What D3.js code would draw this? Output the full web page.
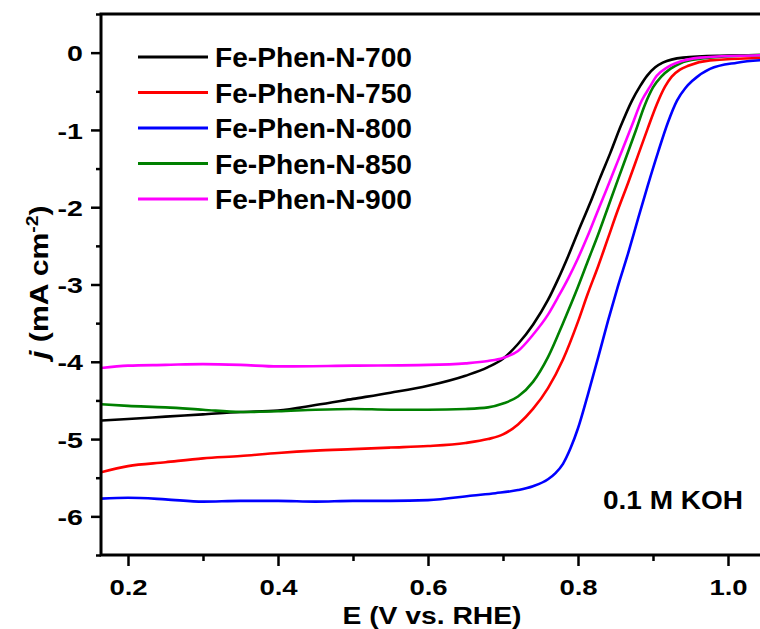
<!DOCTYPE html>
<html>
<head>
<meta charset="utf-8">
<script src="https://cdn.jsdelivr.net/npm/d3@7"></script>
<style>
  body { margin: 0; background: #fff; }
  text { font-family: "Liberation Sans", Arial, sans-serif; font-weight: bold; fill: #000; }
</style>
</head>
<body>
<div id="wrapper"></div>
<script>
// data (E in V vs RHE, j in mA cm-2)
const seriesNames = ["Fe-Phen-N-700", "Fe-Phen-N-750", "Fe-Phen-N-800", "Fe-Phen-N-850", "Fe-Phen-N-900"]
const seriesColors = ["#000000", "#ff0000", "#0000ff", "#008000", "#ff00ff"]

const potential700 = [0.164, 0.2, 0.25, 0.3, 0.35, 0.4, 0.45, 0.5, 0.55, 0.6, 0.65, 0.68, 0.7, 0.72, 0.74, 0.76, 0.773, 0.787, 0.80, 0.816, 0.829, 0.843, 0.857, 0.872, 0.883, 0.892, 0.903, 0.913, 0.94, 0.989, 1.06]
const current700 = [-4.76, -4.74, -4.71, -4.68, -4.65, -4.63, -4.56, -4.48, -4.4, -4.31, -4.18, -4.07, -3.96, -3.77, -3.52, -3.2, -2.94, -2.63, -2.32, -1.95, -1.63, -1.30, -0.95, -0.62, -0.43, -0.30, -0.19, -0.13, -0.065, -0.04, -0.03]

const potential750 = [0.164, 0.2, 0.25, 0.3, 0.35, 0.4, 0.45, 0.5, 0.55, 0.6, 0.65, 0.68, 0.7, 0.72, 0.74, 0.76, 0.78, 0.80, 0.813, 0.827, 0.84, 0.853, 0.867, 0.88, 0.893, 0.905, 0.916, 0.925, 0.936, 0.947, 0.976, 1.06]
const current750 = [-5.43, -5.35, -5.3, -5.25, -5.22, -5.18, -5.15, -5.13, -5.11, -5.09, -5.05, -5.0, -4.94, -4.81, -4.61, -4.34, -3.97, -3.48, -3.12, -2.76, -2.40, -2.04, -1.68, -1.33, -0.98, -0.67, -0.44, -0.31, -0.22, -0.17, -0.10, -0.065]

const potential800 = [0.164, 0.2, 0.25, 0.3, 0.35, 0.4, 0.45, 0.5, 0.55, 0.6, 0.66, 0.69, 0.72, 0.74, 0.76, 0.77, 0.78, 0.79, 0.80, 0.813, 0.827, 0.84, 0.853, 0.867, 0.88, 0.893, 0.907, 0.92, 0.932, 0.943, 0.953, 0.976, 1.012, 1.06]
const current800 = [-5.77, -5.76, -5.78, -5.81, -5.8, -5.8, -5.81, -5.8, -5.8, -5.79, -5.73, -5.70, -5.66, -5.61, -5.52, -5.44, -5.32, -5.12, -4.86, -4.43, -3.94, -3.47, -3.03, -2.59, -2.15, -1.72, -1.28, -0.90, -0.62, -0.46, -0.36, -0.21, -0.13, -0.09]

const potential850 = [0.164, 0.2, 0.25, 0.3, 0.35, 0.4, 0.45, 0.5, 0.55, 0.6, 0.65, 0.68, 0.7, 0.72, 0.74, 0.76, 0.78, 0.80, 0.813, 0.827, 0.84, 0.853, 0.865, 0.877, 0.889, 0.90, 0.911, 0.923, 0.936, 0.963, 1.016, 1.06]
const current850 = [-4.55, -4.57, -4.59, -4.62, -4.65, -4.64, -4.62, -4.61, -4.62, -4.62, -4.61, -4.59, -4.54, -4.45, -4.26, -3.94, -3.50, -3.03, -2.70, -2.35, -2.0, -1.65, -1.33, -1.01, -0.68, -0.45, -0.31, -0.21, -0.14, -0.08, -0.04, -0.03]

const potential900 = [0.164, 0.2, 0.25, 0.3, 0.35, 0.4, 0.5, 0.6, 0.65, 0.68, 0.7, 0.72, 0.74, 0.76, 0.773, 0.787, 0.80, 0.813, 0.825, 0.836, 0.847, 0.859, 0.872, 0.885, 0.896, 0.905, 0.919, 0.932, 0.963, 1.016, 1.06]
const current900 = [-4.08, -4.05, -4.04, -4.03, -4.04, -4.06, -4.05, -4.04, -4.02, -3.99, -3.95, -3.86, -3.65, -3.39, -3.17, -2.92, -2.66, -2.37, -2.08, -1.82, -1.55, -1.26, -0.94, -0.62, -0.44, -0.30, -0.19, -0.13, -0.065, -0.04, -0.03]

const xMajorTicks = [0.2, 0.4, 0.6, 0.8, 1.0]
const xMinorTicks = [0.3, 0.5, 0.7, 0.9]
const yMajorTicks = [0, -1, -2, -3, -4, -5, -6]
const yMinorTicks = [0.5, -0.5, -1.5, -2.5, -3.5, -4.5, -5.5, -6.5]

const potentials = [potential700, potential750, potential800, potential850, potential900]
const currents = [current700, current750, current800, current850, current900]

const series = seriesNames.map((name, i) => ({
  name: name,
  color: seriesColors[i],
  values: potentials[i].map((e, k) => ({ e: e, j: currents[i][k] }))
}))

const xAccessor = d => d.e
const yAccessor = d => d.j

let dimensions = {
  width: 760,
  height: 629,
  margin: { top: 14, left: 101 },
  plotRight: 773,
  plotBottom: 555
}
dimensions.boundedWidth = dimensions.plotRight - dimensions.margin.left
dimensions.boundedHeight = dimensions.plotBottom - dimensions.margin.top

const xScale = d3.scaleLinear()
  .domain([0.164, 1.06])
  .range([0, dimensions.boundedWidth])

const yScale = d3.scaleLinear()
  .domain([-6.5, 0.5])
  .range([dimensions.boundedHeight, 0])

const wrapper = d3.select("#wrapper")
  .append("svg")
  .attr("width", dimensions.width)
  .attr("height", dimensions.height)

const bounds = wrapper.append("g")
  .attr("transform", `translate(${dimensions.margin.left},${dimensions.margin.top})`)

bounds.append("clipPath")
  .attr("id", "clip")
  .append("rect")
  .attr("width", dimensions.boundedWidth)
  .attr("height", dimensions.boundedHeight)

// curves
const lineGenerator = d3.line()
  .x(d => xScale(xAccessor(d)))
  .y(d => yScale(yAccessor(d)))
  .curve(d3.curveMonotoneX)

bounds.append("g")
  .attr("clip-path", "url(#clip)")
  .selectAll("path")
  .data(series)
  .join("path")
  .attr("d", d => lineGenerator(d.values))
  .attr("fill", "none")
  .attr("stroke", d => d.color)
  .attr("stroke-width", 2.6)
  .attr("stroke-linejoin", "round")

// axes
const tickStroke = 2.5

const yAxis = bounds.append("g")
  .call(d3.axisLeft(yScale).tickValues(yMajorTicks).tickSize(10).tickFormat(d3.format("d")))
yAxis.select(".domain").remove()
yAxis.selectAll("line").attr("stroke-width", tickStroke)
yAxis.selectAll("text")
  .attr("x", 0)
  .attr("dy", "0.36em")
  .attr("font-size", 22.5)
  .attr("transform", "translate(-18,0) scale(1.27,1)")
  .text(d => d === 0 ? "0" : String(d))

const yMinor = bounds.append("g")
  .call(d3.axisLeft(yScale).tickValues(yMinorTicks).tickSize(5).tickFormat(""))
yMinor.select(".domain").remove()
yMinor.selectAll("line").attr("stroke-width", tickStroke)

const xAxis = bounds.append("g")
  .attr("transform", `translate(0,${dimensions.boundedHeight})`)
  .call(d3.axisBottom(xScale).tickValues(xMajorTicks).tickSize(11).tickFormat(d3.format(".1f")))
xAxis.select(".domain").remove()
xAxis.selectAll("line").attr("stroke-width", tickStroke)
xAxis.selectAll("text")
  .attr("y", 0)
  .attr("dy", 0)
  .attr("font-size", 22)
  .attr("transform", "translate(0,40) scale(1.25,1)")

const xMinor = bounds.append("g")
  .attr("transform", `translate(0,${dimensions.boundedHeight})`)
  .call(d3.axisBottom(xScale).tickValues(xMinorTicks).tickSize(6).tickFormat(""))
xMinor.select(".domain").remove()
xMinor.selectAll("line").attr("stroke-width", tickStroke)

// frame
bounds.append("rect")
  .attr("width", dimensions.boundedWidth)
  .attr("height", dimensions.boundedHeight)
  .attr("fill", "none")
  .attr("stroke", "#000")
  .attr("stroke-width", 3)

// legend
const legend = bounds.append("g")
  .attr("transform", "translate(37,43)")

const legendItems = legend.selectAll("g")
  .data(series)
  .join("g")
  .attr("transform", (d, i) => `translate(0,${i * 35.5})`)

legendItems.append("line")
  .attr("x1", 0)
  .attr("x2", 70)
  .attr("stroke", d => d.color)
  .attr("stroke-width", 3)

legendItems.append("text")
  .attr("x", 77)
  .attr("y", 10)
  .attr("font-size", 28)
  .attr("textLength", 197)
  .attr("lengthAdjust", "spacingAndGlyphs")
  .text(d => d.name)

// electrolyte note
bounds.append("text")
  .attr("x", 502)
  .attr("y", 495)
  .attr("font-size", 26)
  .attr("textLength", 140)
  .attr("lengthAdjust", "spacingAndGlyphs")
  .text("0.1 M KOH")

// axis titles
wrapper.append("text")
  .attr("x", 432)
  .attr("y", 624)
  .attr("text-anchor", "middle")
  .attr("font-size", 24)
  .attr("textLength", 179)
  .attr("lengthAdjust", "spacingAndGlyphs")
  .text("E (V vs. RHE)")

const yTitleHolder = wrapper.append("g")
  .attr("transform", "translate(48,284) rotate(-90)")
const yTitleInner = yTitleHolder.append("g")
const yTitle = yTitleInner.append("text")
  .attr("font-size", 25)
yTitle.append("tspan").attr("font-style", "italic").text("j")
yTitle.append("tspan").text(" (mA cm")
yTitle.append("tspan").attr("font-size", 16).attr("dy", -10).text("-2")
yTitle.append("tspan").attr("dy", 10).text(")")

const box = yTitle.node().getBBox()
const yScaleText = 157 / box.width
yTitleInner.attr("transform", `scale(${yScaleText},1) translate(${-box.x - box.width / 2},0)`)
</script>
</body>
</html>
